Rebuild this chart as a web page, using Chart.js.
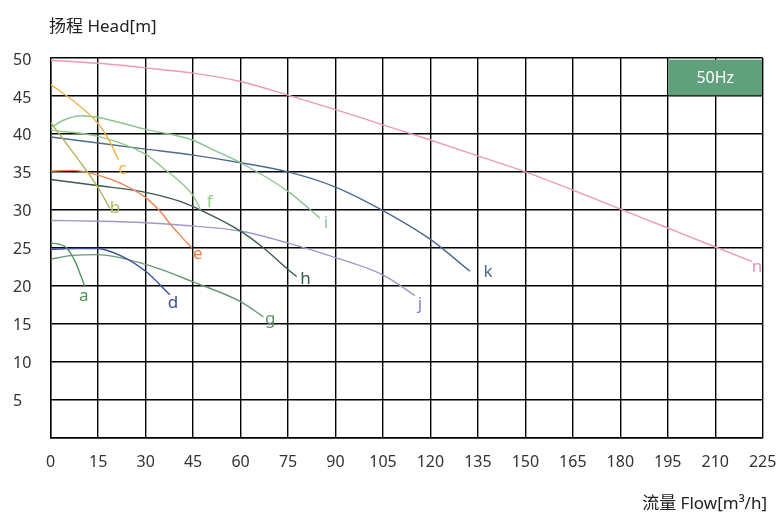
<!DOCTYPE html>
<html>
<head>
<meta charset="utf-8">
<script src="https://cdn.jsdelivr.net/npm/chart.js@4.4.1/dist/chart.umd.min.js"></script>
<style>
  body { margin: 0; background: #fff; }
  #wrap { width: 783px; height: 516px; }
</style>
</head>
<body>
<div id="wrap"><canvas id="pumpChart"></canvas></div>
<script>
// pump curves, flow [m3/h] vs head [m]
const curveNames = ['a', 'b', 'c', 'd', 'e', 'f', 'g', 'h', 'i', 'j', 'k', 'n'];

const flowA = [0, 2.4, 5, 7.7, 9.8, 10.8];
const headA = [25.6, 25.5, 25.0, 23.2, 21.0, 19.9];

const flowB = [0, 5, 10, 14.7, 18.7];
const headB = [41.5, 38.7, 35.9, 33.1, 30.2];

const flowC = [0, 7, 14.7, 18, 21.4];
const headC = [46.5, 44.4, 41.5, 39.5, 36.6];

const flowD = [0, 8, 14.7, 22.4, 30, 37.7];
const headD = [24.8, 24.9, 24.9, 23.9, 21.9, 18.8];

const flowE = [0, 7, 14.7, 22, 30, 35, 38, 41, 44.6];
const headE = [35.1, 35.2, 34.6, 33.5, 31.6, 29.6, 28.0, 26.6, 25.0];

const flowF = [0, 14.7, 30, 36.1, 40.9, 45.1, 47.4];
const headF = [40.5, 39.7, 37.3, 35.3, 33.7, 31.8, 30.0];

const flowG = [0, 7, 14.7, 30, 45, 60, 67.2];
const headG = [23.5, 24.0, 24.1, 22.8, 20.5, 17.9, 15.9];

const flowH = [0, 14.7, 30, 40.9, 47.7, 60, 67.2, 75.1, 77.7];
const headH = [34.0, 33.2, 32.3, 31.1, 29.9, 27.2, 25.0, 22.1, 21.2];

const flowI = [0, 4, 9.8, 14.7, 30, 44.8, 51.4, 60, 75.1, 85.1];
const headI = [40.8, 41.8, 42.4, 42.2, 40.6, 39.2, 37.9, 36.2, 32.4, 28.9];

const flowJ = [0, 15, 30, 40.9, 60, 75.1, 90, 105.1, 115.1];
const headJ = [28.6, 28.5, 28.3, 28.0, 27.2, 25.6, 23.7, 21.4, 18.7];

const flowK = [0, 15, 30, 45, 60, 75, 90, 105, 120, 132.5];
const headK = [39.6, 38.8, 38.0, 37.2, 36.2, 35.0, 33.0, 29.9, 26.1, 21.9];

const flowN = [0, 15, 30, 45, 60, 75, 90, 105, 120, 135, 150, 165, 180, 195, 210, 221.6];
const headN = [49.7, 49.3, 48.7, 48.0, 46.9, 45.1, 43.2, 41.2, 39.2, 37.1, 35.0, 32.6, 30.1, 27.6, 25.1, 23.2];

const flowTicks = [0, 15, 30, 45, 60, 75, 90, 105, 120, 135, 150, 165, 180, 195, 210, 225];
const headTicks = [5, 10, 15, 20, 25, 30, 35, 40, 45, 50];

const freqLabel = '50Hz';
const headTitle = '扬程 Head[m]';
const flowTitle = '流量 Flow[m³/h]';

const flows = [flowA, flowB, flowC, flowD, flowE, flowF, flowG, flowH, flowI, flowJ, flowK, flowN];
const heads = [headA, headB, headC, headD, headE, headF, headG, headH, headI, headJ, headK, headN];

// look of each curve: line colour, label colour, label nudge in px
const styles = {
  a: { line: '#4f9a5c', text: '#4a9a52', dx: -1, dy: 10 },
  b: { line: '#b4b65e', text: '#b4b65e', dx: 5, dy: 0 },
  c: { line: '#f0b246', text: '#f0b040', dx: 4, dy: 9 },
  d: { line: '#3f509e', text: '#3a4aa0', dx: 3, dy: 8 },
  e: { line: '#ef8550', text: '#f08048', dx: 6, dy: 6 },
  f: { line: '#92c886', text: '#8ccf7f', dx: 9, dy: -8 },
  g: { line: '#6a9876', text: '#6a9070', dx: 7, dy: 2 },
  h: { line: '#3e5c4a', text: '#3a5a48', dx: 9, dy: 3 },
  i: { line: '#8cc492', text: '#8cc898', dx: 6, dy: 5 },
  j: { line: '#9a9ace', text: '#8484c4', dx: 5, dy: 9 },
  k: { line: '#4d6b8c', text: '#4a6a8a', dx: 18, dy: 1 },
  n: { line: '#ee98bc', text: '#e890b8', dx: 5, dy: 6 }
};

const FONT = '"Noto Sans", "Noto Sans CJK SC", sans-serif';

const datasets = curveNames.map(function(name, idx) {
  return {
    label: name,
    data: flows[idx].map(function(q, k) { return { x: q, y: heads[idx][k] }; }),
    borderColor: styles[name].line,
    borderWidth: 1.4,
    pointRadius: 0,
    showLine: true,
    fill: false,
    cubicInterpolationMode: 'monotone'
  };
});

const overlay = {
  id: 'overlay',
  beforeDatasetsDraw(chart) {
    const ctx = chart.ctx;
    const xs = chart.scales.x, ys = chart.scales.y;
    const x0 = xs.getPixelForValue(195) + 0.7;
    const x1 = xs.getPixelForValue(225) - 0.7;
    const y0 = ys.getPixelForValue(50) + 1.6;
    const y1 = ys.getPixelForValue(45) - 0.6;
    ctx.save();
    ctx.fillStyle = '#60a07b';
    ctx.fillRect(x0, y0, x1 - x0, y1 - y0);
    ctx.fillStyle = '#fff';
    ctx.font = '16px ' + FONT;
    ctx.textAlign = 'center';
    ctx.textBaseline = 'middle';
    ctx.fillText(freqLabel, (x0 + x1) / 2, (y0 + y1) / 2 + 1);
    ctx.restore();
  },
  afterDatasetsDraw(chart) {
    const ctx = chart.ctx;
    ctx.save();
    ctx.font = '17px ' + FONT;
    ctx.textAlign = 'center';
    ctx.textBaseline = 'middle';
    chart.data.datasets.forEach(function(ds) {
      const st = styles[ds.label];
      const last = ds.data[ds.data.length - 1];
      const px = chart.scales.x.getPixelForValue(last.x);
      const py = chart.scales.y.getPixelForValue(last.y);
      ctx.fillStyle = st.text;
      ctx.fillText(ds.label, px + st.dx, py + st.dy);
    });
    ctx.restore();
  },
  afterDraw(chart) {
    const ctx = chart.ctx;
    ctx.save();
    ctx.fillStyle = '#222';
    ctx.font = '17px ' + FONT;
    ctx.textBaseline = 'middle';
    ctx.textAlign = 'left';
    ctx.fillText(headTitle, 49, 27);
    ctx.textAlign = 'right';
    ctx.fillText(flowTitle, 767, 504);
    ctx.restore();
  }
};

const ctx = document.getElementById('pumpChart').getContext('2d');
const pumpChart = new Chart(ctx, {
  type: 'scatter',
  data: { datasets: datasets },
  options: {
    responsive: true,
    maintainAspectRatio: false,
    animation: false,
    layout: { padding: { left: 13, top: 58, right: 20.3, bottom: 0 } },
    plugins: {
      legend: { display: false },
      tooltip: { enabled: false }
    },
    scales: {
      x: {
        type: 'linear',
        min: 0,
        max: 225,
        afterBuildTicks: function(scale) {
          scale.ticks = flowTicks.map(function(v) { return { value: v }; });
        },
        afterFit: function(scale) {
          scale.height = 78.5;
          scale.paddingLeft = 0;
          scale.paddingRight = 0;
        },
        ticks: {
          color: '#333',
          font: { family: FONT, size: 16 },
          padding: 15,
          maxRotation: 0,
          autoSkip: false
        },
        grid: { color: '#000', lineWidth: 1.4, drawTicks: false },
        border: { color: '#000', width: 1.4 }
      },
      y: {
        type: 'linear',
        min: 0,
        max: 50,
        afterBuildTicks: function(scale) {
          scale.ticks = [0].concat(headTicks).map(function(v) { return { value: v }; });
        },
        afterFit: function(scale) {
          scale.width = 37.7;
          scale.paddingTop = 0;
          scale.paddingBottom = 0;
        },
        ticks: {
          color: '#333',
          font: { family: FONT, size: 16 },
          crossAlign: 'far',
          labelOffset: 2,
          callback: function(v) { return v === 0 ? '' : v; }
        },
        grid: { color: '#000', lineWidth: 1.4, drawTicks: false },
        border: { color: '#000', width: 1.4 }
      }
    }
  },
  plugins: [overlay]
});
</script>
</body>
</html>
